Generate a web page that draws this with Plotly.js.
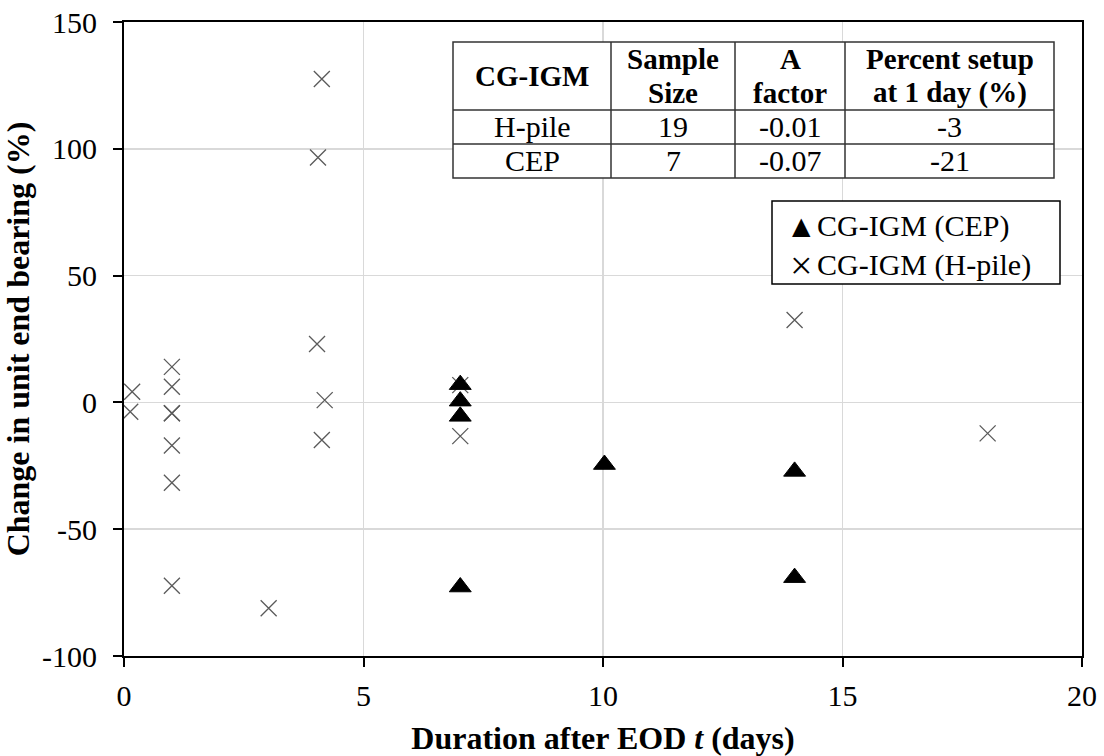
<!DOCTYPE html>
<html>
<head>
<meta charset="utf-8">
<script src="https://cdn.plot.ly/plotly-3.0.1.min.js"></script>
<style>html,body{margin:0;padding:0;background:#fff;}#chart{width:1104px;height:756px;}</style>
</head>
<body>
<div id="chart"></div>
<script>
// ---- data ----
const hpileX = [0.17, 0.13, 1, 1, 1, 1, 1, 1, 1, 3.02, 4.05, 4.13, 4.03, 4.19, 4.13, 7.02, 7.02, 14, 18.03];
const hpileY = [4.2, -3.7, 14, 6.2, -4.3, -4.3, -17, -31.7, -72.3, -81.2, 96.6, 127.5, 23, 0.9, -14.8, 6.8, -13.3, 32.5, -12.2];
const cepX = [7.02, 7.02, 7.02, 7.02, 10.03, 14, 14];
const cepY = [7, 0.5, -5.5, -72.8, -24.5, -27.2, -69.1];
const seriesNames = ['CG-IGM (CEP)', 'CG-IGM (H-pile)'];
const legendSymbols = ['\u25B2', '\u00D7'];
const tableHeader = ['CG-IGM', 'Sample<br>Size', 'A<br>factor', 'Percent setup<br>at 1 day (%)'];
const tableRowLabels = ['H-pile', 'CEP'];
const tableSampleSize = ['19', '7'];
const tableAFactor = ['-0.01', '-0.07'];
const tablePercentSetup = ['-3', '-21'];
const xTickVals = [0, 5, 10, 15, 20];
const xTickText = ['0', '5', '10', '15', '20'];
const yTickVals = [-100, -50, 0, 50, 100, 150];
const yTickText = ['-100', '-50', '0', '50', '100', '150'];

// ---- layout helpers (pixel -> paper) ----
const M = {l: 124, r: 22, t: 22, b: 100};
const W = 1104, H = 756;
const PW = W - M.l - M.r, PH = H - M.t - M.b;
const px = v => (v - M.l) / PW;
const py = v => (H - M.b - v) / PH;
const FONT = 'Liberation Serif, Times New Roman, serif';

const traces = [
  {x: hpileX, y: hpileY, mode: 'markers', type: 'scatter', name: seriesNames[1], cliponaxis: false,
   marker: {symbol: 'x-thin-open', size: 16, color: '#5a5a5a', line: {width: 1.3, color: '#5a5a5a'}}},
  {x: cepX, y: cepY, mode: 'markers', type: 'scatter', name: seriesNames[0], cliponaxis: false,
   marker: {symbol: 'triangle-up', size: 19, color: '#000000', line: {width: 1, color: '#000000'}}}
];

// table geometry (pixels)
const colEdges = [453, 611, 735, 845, 1054];
const rowEdges = [42, 110, 144, 178];
const headerLineY = [59, 93];
const shapes = [];
const annotations = [];
shapes.push({type: 'rect', xref: 'paper', yref: 'paper', x0: px(colEdges[0]), x1: px(colEdges[4]), y0: py(rowEdges[3]), y1: py(rowEdges[0]),
  fillcolor: '#ffffff', line: {color: '#333333', width: 1.5}, layer: 'above'});
for (let i = 1; i < colEdges.length - 1; i++) {
  shapes.push({type: 'line', xref: 'paper', yref: 'paper', x0: px(colEdges[i]), x1: px(colEdges[i]), y0: py(rowEdges[3]), y1: py(rowEdges[0]),
    line: {color: '#333333', width: 1.5}, layer: 'above'});
}
for (let j = 1; j < rowEdges.length - 1; j++) {
  shapes.push({type: 'line', xref: 'paper', yref: 'paper', x0: px(colEdges[0]), x1: px(colEdges[4]), y0: py(rowEdges[j]), y1: py(rowEdges[j]),
    line: {color: '#333333', width: 1.5}, layer: 'above'});
}
const colCenter = i => px((colEdges[i] + colEdges[i + 1]) / 2);
const rowCenter = j => py((rowEdges[j] + rowEdges[j + 1]) / 2);
tableHeader.forEach((t, i) => {
  const lines = t.split('<br>');
  if (lines.length === 1) {
    annotations.push({xref: 'paper', yref: 'paper', x: colCenter(i), y: rowCenter(0), text: '<b>' + lines[0] + '</b>',
      showarrow: false, xanchor: 'center', yanchor: 'middle', font: {family: FONT, size: 29, color: '#000'}});
  } else {
    lines.forEach((ln, k) => annotations.push({xref: 'paper', yref: 'paper', x: colCenter(i), y: py(headerLineY[k]), text: '<b>' + ln + '</b>',
      showarrow: false, xanchor: 'center', yanchor: 'middle', font: {family: FONT, size: 29, color: '#000'}}));
  }
});
const bodyCols = [tableRowLabels, tableSampleSize, tableAFactor, tablePercentSetup];
bodyCols.forEach((col, i) => col.forEach((t, j) => annotations.push({xref: 'paper', yref: 'paper', x: colCenter(i), y: rowCenter(j + 1), text: t,
  showarrow: false, xanchor: 'center', yanchor: 'middle', font: {family: FONT, size: 30, color: '#000'}})));

// legend box
const lg = {x0: 772, x1: 1060, y0: 201, y1: 284};
shapes.push({type: 'rect', xref: 'paper', yref: 'paper', x0: px(lg.x0), x1: px(lg.x1), y0: py(lg.y1), y1: py(lg.y0),
  fillcolor: '#ffffff', line: {color: '#000000', width: 1.5}, layer: 'above'});
const legRows = [226, 265];
const legSymSize = [24, 40];
seriesNames.forEach((n, i) => {
  annotations.push({xref: 'paper', yref: 'paper', x: px(801), y: py(legRows[i]), text: legendSymbols[i],
    showarrow: false, xanchor: 'center', yanchor: 'middle', font: {family: i === 0 ? 'DejaVu Sans' : FONT, size: legSymSize[i], color: '#000'}});
  annotations.push({xref: 'paper', yref: 'paper', x: px(815), y: py(legRows[i]), text: n,
    showarrow: false, xanchor: 'left', yanchor: 'middle', font: {family: FONT, size: 30, color: '#000'}});
});

const layout = {
  width: W, height: H,
  margin: M,
  paper_bgcolor: '#ffffff', plot_bgcolor: '#ffffff',
  showlegend: false,
  xaxis: {range: [0, 20], tickvals: xTickVals, ticktext: xTickText, showgrid: true, gridcolor: '#d9d9d9', gridwidth: 1.5, zeroline: false,
    showline: true, linecolor: '#000', linewidth: 2, mirror: true, ticks: 'outside', ticklen: 9, tickwidth: 2, tickcolor: '#000',
    tickfont: {family: FONT, size: 30, color: '#000'}, automargin: false, ticklabelstandoff: 3,
    title: {text: '<b>Duration after EOD <i>t</i> (days)</b>', font: {family: FONT, size: 32, color: '#000'}, standoff: 24}},
  yaxis: {range: [-100, 150], tickvals: yTickVals, ticktext: yTickText, showgrid: true, gridcolor: '#d9d9d9', gridwidth: 1.5, zeroline: false,
    showline: true, linecolor: '#000', linewidth: 2, mirror: true, ticks: 'outside', ticklen: 9, tickwidth: 2, tickcolor: '#000',
    tickfont: {family: FONT, size: 30, color: '#000'}, automargin: false, ticklabelstandoff: 10,
    title: {text: '<b>Change in unit end bearing (%)</b>', font: {family: FONT, size: 32, color: '#000'}, standoff: 10}},
  shapes: shapes,
  annotations: annotations
};

Plotly.newPlot('chart', traces, layout, {displayModeBar: false, staticPlot: true});
</script>
</body>
</html>
